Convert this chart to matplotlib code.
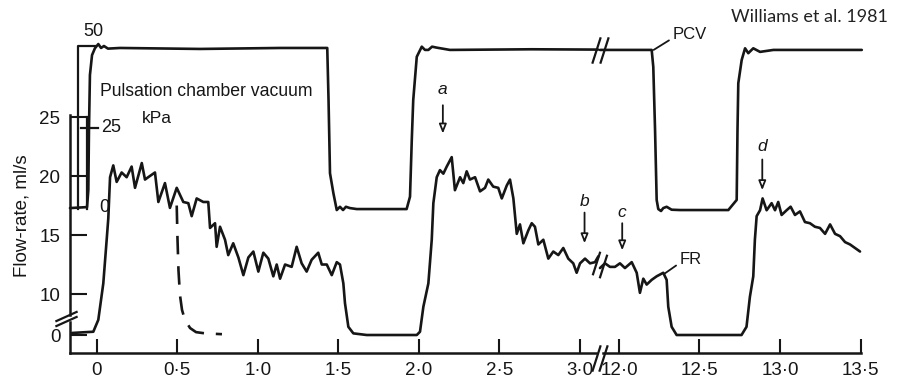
import numpy as np
import matplotlib
matplotlib.use("Agg")
import matplotlib.pyplot as plt
from matplotlib.path import Path

plt.rcParams['font.family'] = ['Liberation Sans', 'DejaVu Sans']

# ---------------- data (time in s, flow in ml/s, vacuum in kPa) ----------------
fr_t1 = [-0.153, -0.021, 0.010, 0.041, 0.062, 0.072, 0.083, 0.103, 0.124, 0.155,
         0.186, 0.217, 0.238, 0.280, 0.300, 0.320, 0.362, 0.383, 0.424, 0.455,
         0.497, 0.538, 0.569, 0.590, 0.621, 0.662, 0.693, 0.704, 0.735, 0.745,
         0.766, 0.797, 0.817, 0.848, 0.880, 0.911, 0.942, 0.973, 1.004, 1.035,
         1.066, 1.097, 1.118, 1.139, 1.170, 1.211, 1.242, 1.273, 1.304, 1.335,
         1.376, 1.398, 1.429, 1.460, 1.491, 1.511, 1.532, 1.542, 1.563, 1.594,
         1.677, 1.988, 2.008, 2.029, 2.060, 2.081, 2.091, 2.112, 2.132, 2.153,
         2.174, 2.205, 2.225, 2.257, 2.277, 2.298, 2.318, 2.350, 2.381, 2.412,
         2.432, 2.463, 2.494, 2.516, 2.547, 2.567, 2.588, 2.609, 2.629, 2.650,
         2.681, 2.702, 2.722, 2.743, 2.774, 2.805, 2.836, 2.867, 2.898, 2.929,
         2.960, 2.981, 3.002, 3.033, 3.064, 3.095, 3.116]
fr_f1 = [0.5, 0.8, 3.7, 10.9, 14.6, 16.4, 19.9, 20.9, 19.5, 20.3,
         19.9, 20.8, 19.0, 21.1, 19.7, 19.9, 20.3, 17.8, 19.4, 17.3,
         19.0, 17.8, 17.7, 16.6, 18.1, 17.8, 17.8, 15.6, 16.0, 14.0,
         15.7, 14.6, 13.3, 14.3, 13.1, 11.6, 13.1, 13.6, 11.9, 13.5,
         13.0, 11.5, 12.5, 11.3, 12.5, 12.3, 14.0, 12.6, 11.9, 12.9,
         13.5, 12.5, 12.5, 11.6, 12.7, 12.5, 10.9, 7.8, 2.0, 0.4,
         0.0, 0.0, 0.8, 6.9, 10.9, 14.6, 17.7, 19.9, 20.5, 20.2,
         20.8, 21.6, 18.8, 19.9, 19.4, 20.4, 19.7, 19.9, 18.7, 19.0,
         19.7, 19.1, 19.0, 18.1, 19.2, 19.7, 18.1, 15.1, 15.9, 14.3,
         15.4, 16.0, 15.7, 14.2, 14.6, 13.0, 13.6, 13.3, 13.9, 13.0,
         12.6, 11.8, 12.6, 13.0, 12.6, 12.7, 13.2]

fr_t2 = [11.882, 11.913, 11.944, 11.975, 12.006, 12.037, 12.079, 12.110, 12.130, 12.151,
         12.172, 12.203, 12.234, 12.275, 12.296, 12.306, 12.327, 12.358, 12.627, 12.761,
         12.792, 12.813, 12.834, 12.844, 12.855, 12.876, 12.892, 12.917, 12.948, 12.969,
         12.989, 13.010, 13.041, 13.066, 13.093, 13.124, 13.155, 13.186, 13.217, 13.248,
         13.280, 13.311, 13.342, 13.373, 13.404, 13.435, 13.466, 13.497]
fr_f2 = [12.2, 12.6, 12.3, 12.3, 12.6, 12.2, 12.7, 11.8, 10.1, 11.3,
         10.8, 11.2, 11.5, 11.8, 11.2, 6.9, 2.0, 0.0, 0.0, 0.0,
         2.0, 9.3, 11.5, 14.6, 16.6, 17.1, 18.1, 17.1, 17.7, 17.1,
         17.8, 16.7, 17.1, 17.4, 16.7, 17.0, 16.1, 16.0, 15.7, 15.6,
         15.1, 15.9, 15.1, 14.9, 14.4, 14.2, 13.9, 13.6]

# dashed decay curve at 0.5 s
dash_t = [0.497, 0.502, 0.508, 0.517, 0.530, 0.548, 0.580, 0.617, 0.673, 0.778]
dash_f = [17.5, 14.6, 12.0, 9.8, 6.1, 3.7, 1.7, 0.7, 0.4, 0.2]

pcv_t1 = [-0.166, -0.060, -0.052, -0.048, -0.042, -0.029, -0.011, 0.010, 0.027, 0.045,
          0.070, 0.145, 0.642, 1.139, 1.432, 1.440, 1.449, 1.470, 1.491, 1.511,
          1.530, 1.548, 1.573, 1.615, 1.925, 1.946, 1.957, 1.966, 1.988, 2.019,
          2.039, 2.060, 2.083, 2.112, 2.194, 2.700, 3.114]
pcv_k1 = [0.3, 0.6, 5.8, 24.2, 41.1, 47.2, 49.3, 50.6, 49.4, 50.0,
          49.2, 49.4, 49.1, 49.4, 49.4, 33.4, 11.0, 4.9, -0.3, 0.7,
          -0.3, 0.7, 0.3, 0.0, 0.0, 3.8, 21.2, 33.4, 46.7, 49.8,
          48.8, 48.8, 49.8, 49.5, 48.8, 49.0, 48.9]
pcv_t2 = [11.882, 12.203, 12.213, 12.224, 12.234, 12.244, 12.261, 12.275, 12.296, 12.327,
          12.379, 12.679, 12.731, 12.736, 12.741, 12.762, 12.783, 12.803, 12.834, 12.876,
          12.959, 13.508]
pcv_k2 = [48.8, 48.8, 43.6, 24.2, 2.8, 0.0, -0.6, 0.3, 0.7, -0.2,
          -0.3, -0.3, 2.8, 24.2, 38.6, 45.7, 49.3, 47.8, 49.3, 48.2,
          48.8, 48.8]

xtick_vals = [0, 0.5, 1.0, 1.5, 2.0, 2.5, 3.0, 12.0, 12.5, 13.0, 13.5]
xtick_labels = ['0', '0·5', '1·0', '1·5', '2·0', '2·5', '3·0', '12·0', '12·5', '13·0', '13·5']
ytick_vals = [0, 10, 15, 20, 25]
ytick_labels = ['0', '10', '15', '20', '25']

# arrows: (label, time, label flow, tail flow, tip flow)
arrow_lbl = ['a', 'b', 'c', 'd']
arrow_t = [2.15, 3.03, 12.02, 12.89]
arrow_lab_f = [27.3, 17.8, 16.9, 22.5]
arrow_tail_f = [26.0, 16.9, 16.0, 21.4]
arrow_tip_f = [23.6, 14.3, 13.7, 18.8]

# ---------------- broken-axis scales ----------------
T_SHIFT = 12.0 - 3.244          # 12.0 s sits just after 3.0 s


def tx(t):
    t = np.asarray(t, float)
    return np.where(t < 7, t, t - T_SHIFT)


def fy(f):
    f = np.asarray(f, float)
    return np.where(f >= 10, f, 10 - (10 - f) * 0.3475)


def pk(k):
    return 17.2 + np.asarray(k, float) * 0.2764


W, H = 897, 385
fig = plt.figure(figsize=(W / 100, H / 100), dpi=100)
ax = fig.add_axes([70 / W, 32 / H, 790.5 / W, 353 / H])
XMIN, XMAX = -0.1658, float(tx(13.5))
YMIN, YMAX = 5.0, 34.92
ax.set_xlim(XMIN, XMAX)
ax.set_ylim(YMIN, YMAX)
for s in ax.spines.values():
    s.set_visible(False)

ink = '#161616'
lw = 1.9
kw = dict(color=ink, lw=lw, clip_on=False, solid_joinstyle='round', solid_capstyle='round')

ax.plot(tx(fr_t1), fy(fr_f1), **kw)
ax.plot(tx(fr_t2), fy(fr_f2), **kw)
ax.plot(tx(pcv_t1), pk(pcv_k1), **kw)
ax.plot(tx(pcv_t2), pk(pcv_k2), **kw)
ax.plot(tx(dash_t), fy(dash_f), color=ink, lw=lw, dashes=(7, 4.5))

# calibration bars on the left
x_bar = -0.114
ax.plot([x_bar, x_bar, -0.011], [pk(0), pk(50), pk(50)], color=ink, lw=1.6, clip_on=False)
ax.plot([-0.10, 0.008], [pk(25), pk(25)], color=ink, lw=1.6)
ax.plot([-0.062, -0.062], [fy(25), pk(0)], color=ink, lw=1.6)

# axes lines with breaks
xb = (tx(3.0) + tx(12.0)) / 2
yb = float(fy(4.0))
alw = 1.8
ax.plot([XMIN, xb - 0.018], [YMIN, YMIN], color=ink, lw=alw, clip_on=False)
ax.plot([xb + 0.022, XMAX], [YMIN, YMIN], color=ink, lw=alw, clip_on=False)
ax.plot([XMIN, XMIN], [YMIN, yb - 0.3], color=ink, lw=alw, clip_on=False)
ax.plot([XMIN, XMIN], [yb + 0.3, fy(25) + 0.15], color=ink, lw=alw, clip_on=False)

slash_v = Path([(-0.32, -1), (0.32, 1)], [Path.MOVETO, Path.LINETO])
slash_h = Path([(-1, -0.45), (1, 0.45)], [Path.MOVETO, Path.LINETO])
mk = dict(linestyle='none', color=ink, mew=1.6, clip_on=False)
ax.plot([xb - 0.02, xb + 0.024], [YMIN - 0.4, YMIN - 0.4], marker=slash_v, ms=19, **mk)
ax.plot([xb - 0.018, xb + 0.026], [pk(48.8), pk(48.8)], marker=slash_v, ms=19, **mk)
ax.plot([xb - 0.02, xb + 0.02], [fy(12.6), fy(12.4)], marker=slash_v, ms=17, **mk)
ax.plot([XMIN - 0.025, XMIN - 0.025], [yb - 0.22, yb + 0.25], marker=slash_h, ms=16, **mk)

# ticks
ax.set_xticks(tx(xtick_vals))
ax.set_xticklabels(xtick_labels)
ax.set_yticks(fy(ytick_vals))
ax.set_yticklabels(ytick_labels)
ax.tick_params(axis='x', direction='in', length=10, width=1.5, pad=6.5,
               labelsize=13.5, colors=ink)
ax.tick_params(axis='y', direction='in', length=12, width=1.5, pad=7,
               labelsize=13.5, colors=ink)

# arrows a-d
for lab, t, lf, tf, pf in zip(arrow_lbl, arrow_t, arrow_lab_f, arrow_tail_f, arrow_tip_f):
    x = float(tx(t))
    ax.annotate('', xy=(x, pf), xytext=(x, tf),
                arrowprops=dict(arrowstyle='-|>,head_length=0.55,head_width=0.22',
                                facecolor='white', edgecolor=ink, lw=1.3,
                                shrinkA=0, shrinkB=0))
    ax.text(x, lf, lab, style='italic', ha='center', va='center', fontsize=12.5, color=ink)

# curve labels
ax.annotate('PCV', xy=(float(tx(12.215)), float(pk(48.8))),
            xytext=(float(tx(12.335)), float(pk(53.4))), ha='left', va='center',
            fontsize=12, color=ink, annotation_clip=False,
            arrowprops=dict(arrowstyle='-', lw=1.3, color=ink, shrinkA=1, shrinkB=0,
                            relpos=(0, 0.3)))
ax.annotate('FR', xy=(float(tx(12.28)), float(fy(11.7))),
            xytext=(float(tx(12.379)), float(fy(12.9))), ha='left', va='center',
            fontsize=12, color=ink,
            arrowprops=dict(arrowstyle='-', lw=1.3, color=ink, shrinkA=1, shrinkB=0,
                            relpos=(0, 0.3)))


def ftxt(x, y, s, **k):
    fig.text(x / W, 1 - y / H, s, color=ink, **k)


ftxt(22, 216, 'Flow-rate, ml/s', rotation=90, ha='center', va='center', fontsize=13.5)
ftxt(100, 91.5, 'Pulsation chamber vacuum', ha='left', va='center', fontsize=12.7)
ftxt(157, 118.5, 'kPa', ha='center', va='center', fontsize=12.5)
ftxt(93, 31, '50', ha='center', va='center', fontsize=13)
ftxt(111, 128, '25', ha='center', va='center', fontsize=13)
ftxt(104, 208, '0', ha='center', va='center', fontsize=13)
fig.text(809 / W, 1 - 17 / H, 'Williams et al. 1981', ha='center', va='center',
         fontsize=13, color='#222222', family=['Lato', 'DejaVu Sans'])

fig.savefig('out.png', dpi=100)
